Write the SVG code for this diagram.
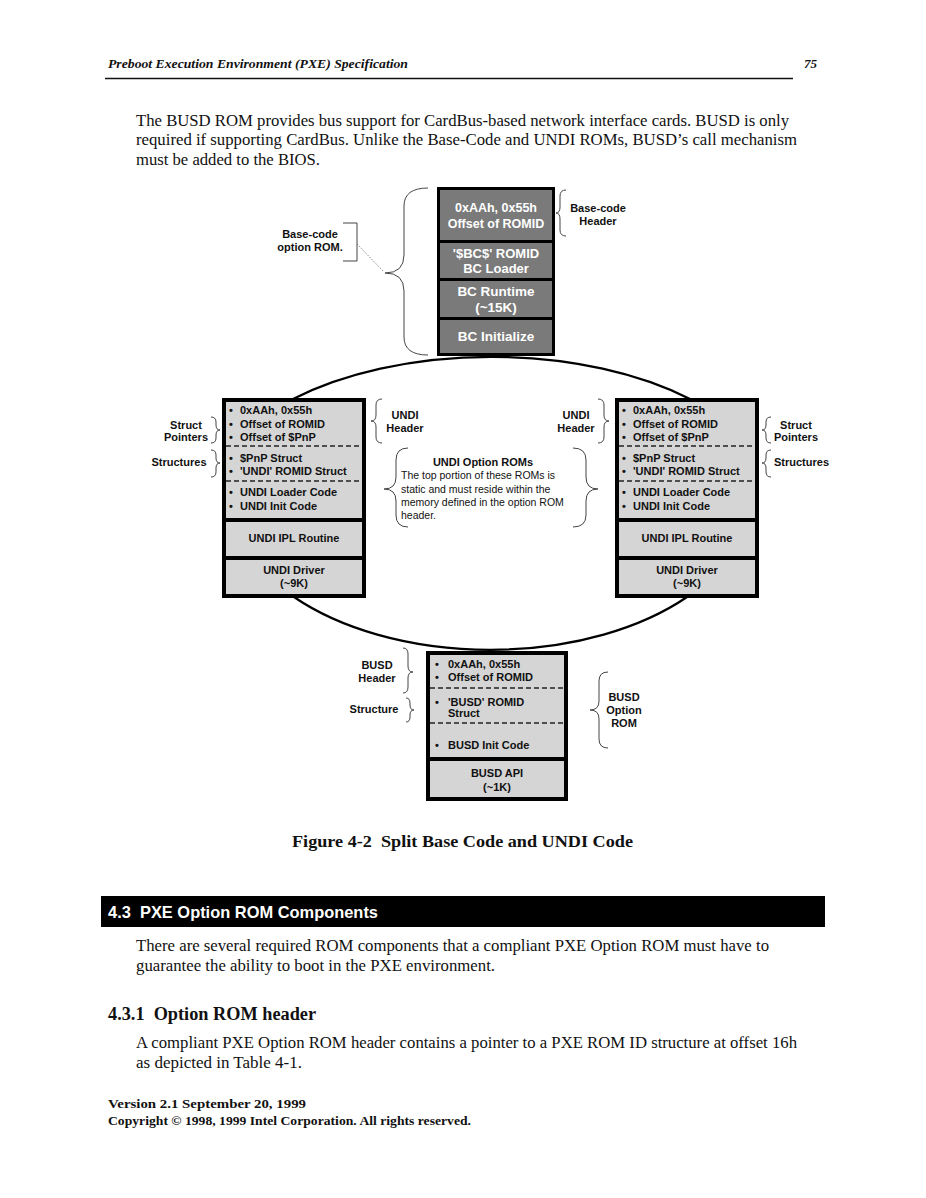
<svg xmlns="http://www.w3.org/2000/svg" width="926" height="1198" viewBox="0 0 926 1198">
<style>
.serif{font-family:"Liberation Serif","Times New Roman",serif;fill:#111}
.p{font-size:16px}
.sans{font-family:"Liberation Sans",Arial,sans-serif;font-weight:bold;fill:#111}
.s11{font-size:11px}
.wt{font-family:"Liberation Sans",Arial,sans-serif;font-weight:bold;fill:#fff;text-anchor:middle}
.mid{text-anchor:middle}
.blk{fill:#000}
.dk{fill:#7a7a7a}
.lt{fill:#d5d5d5}
.brace{fill:none;stroke:#444;stroke-width:1}
.dash{stroke:#222;stroke-width:1.3;stroke-dasharray:5 3}
.arc{fill:none;stroke:#000;stroke-width:2.2}
.reg{font-family:"Liberation Sans",Arial,sans-serif;font-size:10.5px;fill:#111}
</style>

<g id="page-header">
<text class="serif" x="108" y="68" font-size="13" font-style="italic" font-weight="bold" textLength="300" lengthAdjust="spacingAndGlyphs">Preboot Execution Environment (PXE) Specification</text>
<text class="serif" x="804" y="68" font-size="13" font-style="italic" font-weight="bold">75</text>
<line x1="105" y1="78.5" x2="793" y2="78.5" stroke="#111" stroke-width="1.5"/>
</g>

<g id="intro">
<text class="serif p" x="136" y="126" textLength="653" lengthAdjust="spacingAndGlyphs">The BUSD ROM provides bus support for CardBus-based network interface cards. BUSD is only</text>
<text class="serif p" x="136" y="145" textLength="661" lengthAdjust="spacingAndGlyphs">required if supporting CardBus. Unlike the Base-Code and UNDI ROMs, BUSD’s call mechanism</text>
<text class="serif p" x="136" y="165" textLength="184" lengthAdjust="spacingAndGlyphs">must be added to the BIOS.</text>
</g>

<g id="connectors">
<path class="arc" d="M 293 399 A 284 148 0 0 1 690 399"/>
<path class="arc" d="M 294 597 A 258 150 0 0 0 687 597"/>
</g>

<g id="base-code-rom">
<rect class="blk" x="437" y="187" width="118" height="169"/>
<rect class="dk" x="440" y="190" width="112" height="50"/>
<rect class="dk" x="440" y="243" width="112" height="35"/>
<rect class="dk" x="440" y="281" width="112" height="36"/>
<rect class="dk" x="440" y="320" width="112" height="33"/>
<text class="wt" x="496" y="212" font-size="12.5">0xAAh, 0x55h</text>
<text class="wt" x="496" y="228" font-size="12.5">Offset of ROMID</text>
<text class="wt" x="496" y="258" font-size="13">'$BC$' ROMID</text>
<text class="wt" x="496" y="273" font-size="13">BC Loader</text>
<text class="wt" x="496" y="296" font-size="13.5">BC Runtime</text>
<text class="wt" x="496" y="312" font-size="13.5">(~15K)</text>
<text class="wt" x="496" y="341" font-size="13.5">BC Initialize</text>
</g>

<g id="base-code-labels">
<path class="brace" d="M 428 188 Q 404 188 404 206 L 404 255 Q 404 273 385 273 Q 404 273 404 291 L 404 337 Q 404 355 428 355"/>
<path class="brace" d="M 343 223 L 357 223 L 357 261 L 343 261"/>
<path d="M 357 244 L 384 272" stroke="#666" stroke-width="0.8" stroke-dasharray="1.5 1.5" fill="none"/>
<text class="sans s11 mid" x="310" y="238">Base-code</text>
<text class="sans s11 mid" x="310" y="251">option ROM.</text>
<path class="brace" d="M 566 190 Q 560 190 560 196 L 560 207 Q 560 213 556 213 Q 560 213 560 219 L 560 230 Q 560 236 566 236"/>
<text class="sans s11 mid" x="598" y="212">Base-code</text>
<text class="sans s11 mid" x="598" y="225">Header</text>
</g>

<g id="undi-rom-left">
<rect class="blk" x="222" y="398" width="144" height="200"/>
<rect class="lt" x="226" y="402" width="136" height="116"/>
<rect class="lt" x="226" y="522" width="136" height="34"/>
<rect class="lt" x="226" y="560" width="136" height="34"/>
<line class="dash" x1="226" y1="446" x2="362" y2="446"/>
<line class="dash" x1="226" y1="481" x2="362" y2="481"/>
<g class="sans s11">
<text x="229" y="414">•</text><text x="240" y="414">0xAAh, 0x55h</text>
<text x="229" y="428">•</text><text x="240" y="428">Offset of ROMID</text>
<text x="229" y="441">•</text><text x="240" y="441">Offset of $PnP</text>
<text x="229" y="462">•</text><text x="240" y="462">$PnP Struct</text>
<text x="229" y="475">•</text><text x="240" y="475">'UNDI' ROMID Struct</text>
<text x="229" y="496">•</text><text x="240" y="496">UNDI Loader Code</text>
<text x="229" y="510">•</text><text x="240" y="510">UNDI Init Code</text>
<text class="mid" x="294" y="542">UNDI IPL Routine</text>
<text class="mid" x="294" y="574">UNDI Driver</text>
<text class="mid" x="294" y="587">(~9K)</text>
</g>
</g>

<g id="undi-left-labels">
<path class="brace" d="M 211 417 Q 216 417 216 422 L 216 425 Q 216 430 220 430 Q 216 430 216 435 L 216 438 Q 216 443 211 443"/>
<path class="brace" d="M 211 450 Q 216 450 216 455 L 216 458 Q 216 463 220 463 Q 216 463 216 468 L 216 472 Q 216 477 211 477"/>
<text class="sans s11 mid" x="186" y="429">Struct</text>
<text class="sans s11 mid" x="186" y="441">Pointers</text>
<text class="sans s11 mid" x="179" y="466">Structures</text>
<path class="brace" d="M 382 399 Q 376 399 376 405 L 376 415 Q 376 421 371 421 Q 376 421 376 427 L 376 437 Q 376 443 382 443"/>
<text class="sans s11 mid" x="405" y="419">UNDI</text>
<text class="sans s11 mid" x="405" y="432">Header</text>
</g>

<g id="undi-note">
<path class="brace" d="M 408 448 Q 396 448 396 460 L 396 477 Q 396 489 384 489 Q 396 489 396 501 L 396 515 Q 396 527 408 527"/>
<path class="brace" d="M 573 448 Q 586 448 586 460 L 586 477 Q 586 489 598 489 Q 586 489 586 501 L 586 515 Q 586 527 573 527"/>
<text class="sans s11 mid" x="483" y="466">UNDI Option ROMs</text>
<text class="reg" x="401" y="479">The top portion of these ROMs is</text>
<text class="reg" x="401" y="493">static and must reside within the</text>
<text class="reg" x="401" y="506">memory defined in the option ROM</text>
<text class="reg" x="401" y="519">header.</text>
</g>

<g id="undi-rom-right">
<rect class="blk" x="615" y="398" width="144" height="200"/>
<rect class="lt" x="619" y="402" width="136" height="116"/>
<rect class="lt" x="619" y="522" width="136" height="34"/>
<rect class="lt" x="619" y="560" width="136" height="34"/>
<line class="dash" x1="619" y1="446" x2="755" y2="446"/>
<line class="dash" x1="619" y1="481" x2="755" y2="481"/>
<g class="sans s11">
<text x="622" y="414">•</text><text x="633" y="414">0xAAh, 0x55h</text>
<text x="622" y="428">•</text><text x="633" y="428">Offset of ROMID</text>
<text x="622" y="441">•</text><text x="633" y="441">Offset of $PnP</text>
<text x="622" y="462">•</text><text x="633" y="462">$PnP Struct</text>
<text x="622" y="475">•</text><text x="633" y="475">'UNDI' ROMID Struct</text>
<text x="622" y="496">•</text><text x="633" y="496">UNDI Loader Code</text>
<text x="622" y="510">•</text><text x="633" y="510">UNDI Init Code</text>
<text class="mid" x="687" y="542">UNDI IPL Routine</text>
<text class="mid" x="687" y="574">UNDI Driver</text>
<text class="mid" x="687" y="587">(~9K)</text>
</g>
</g>

<g id="undi-right-labels">
<path class="brace" d="M 598 399 Q 604 399 604 405 L 604 415 Q 604 421 609 421 Q 604 421 604 427 L 604 437 Q 604 443 598 443"/>
<text class="sans s11 mid" x="576" y="419">UNDI</text>
<text class="sans s11 mid" x="576" y="432">Header</text>
<path class="brace" d="M 771 417 Q 766 417 766 422 L 766 425 Q 766 430 762 430 Q 766 430 766 435 L 766 438 Q 766 443 771 443"/>
<path class="brace" d="M 771 450 Q 766 450 766 455 L 766 458 Q 766 463 762 463 Q 766 463 766 468 L 766 472 Q 766 477 771 477"/>
<text class="sans s11 mid" x="796" y="429">Struct</text>
<text class="sans s11 mid" x="796" y="441">Pointers</text>
<text class="sans s11" x="774" y="466">Structures</text>
</g>

<g id="busd-rom">
<rect class="blk" x="426" y="651" width="142" height="150"/>
<rect class="lt" x="430" y="655" width="134" height="102"/>
<rect class="lt" x="430" y="761" width="134" height="36"/>
<line class="dash" x1="430" y1="688" x2="564" y2="688"/>
<line class="dash" x1="430" y1="723" x2="564" y2="723"/>
<g class="sans s11">
<text x="435" y="668">•</text><text x="448" y="668">0xAAh, 0x55h</text>
<text x="435" y="681">•</text><text x="448" y="681">Offset of ROMID</text>
<text x="435" y="706">•</text><text x="448" y="706">'BUSD' ROMID</text>
<text x="448" y="717">Struct</text>
<text x="435" y="749">•</text><text x="448" y="749">BUSD Init Code</text>
<text class="mid" x="497" y="777">BUSD API</text>
<text class="mid" x="497" y="791">(~1K)</text>
</g>
</g>

<g id="busd-labels">
<path class="brace" d="M 403 648 Q 408 648 408 654 L 408 666 Q 408 672 413 672 Q 408 672 408 678 L 408 687 Q 408 693 403 693"/>
<path class="brace" d="M 406 698 Q 410 698 410 703 L 410 705 Q 410 710 414 710 Q 410 710 410 715 L 410 717 Q 410 722 406 722"/>
<text class="sans s11 mid" x="377" y="669">BUSD</text>
<text class="sans s11 mid" x="377" y="682">Header</text>
<text class="sans s11 mid" x="374" y="713">Structure</text>
<path class="brace" d="M 608 672 Q 599 672 599 681 L 599 701 Q 599 710 590 710 Q 599 710 599 719 L 599 739 Q 599 748 608 748"/>
<text class="sans s11 mid" x="624" y="701">BUSD</text>
<text class="sans s11 mid" x="624" y="714">Option</text>
<text class="sans s11 mid" x="624" y="727">ROM</text>
</g>

<g id="caption">
<text class="serif" xml:space="preserve" x="292" y="847" font-size="17" font-weight="bold" textLength="341" lengthAdjust="spacingAndGlyphs">Figure 4-2  Split Base Code and UNDI Code</text>
</g>

<g id="section">
<rect x="101" y="896" width="724" height="31" fill="#000"/>
<text xml:space="preserve" x="108" y="918" font-family="Liberation Sans, Arial, sans-serif" font-weight="bold" font-size="17" fill="#fff" textLength="270" lengthAdjust="spacingAndGlyphs">4.3  PXE Option ROM Components</text>
<text class="serif p" x="136" y="951" textLength="633" lengthAdjust="spacingAndGlyphs">There are several required ROM components that a compliant PXE Option ROM must have to</text>
<text class="serif p" x="136" y="971" textLength="359" lengthAdjust="spacingAndGlyphs">guarantee the ability to boot in the PXE environment.</text>
<text class="serif" xml:space="preserve" x="108" y="1020" font-size="18" font-weight="bold" textLength="208" lengthAdjust="spacingAndGlyphs">4.3.1  Option ROM header</text>
<text class="serif p" x="136" y="1048" textLength="661" lengthAdjust="spacingAndGlyphs">A compliant PXE Option ROM header contains a pointer to a PXE ROM ID structure at offset 16h</text>
<text class="serif p" x="136" y="1068" textLength="166" lengthAdjust="spacingAndGlyphs">as depicted in Table 4-1.</text>
</g>

<g id="footer">
<text class="serif" x="108" y="1108" font-size="13" font-weight="bold" textLength="198" lengthAdjust="spacingAndGlyphs">Version 2.1 September 20, 1999</text>
<text class="serif" x="108" y="1125" font-size="13" font-weight="bold" textLength="363" lengthAdjust="spacingAndGlyphs">Copyright © 1998, 1999 Intel Corporation. All rights reserved.</text>
</g>
</svg>
